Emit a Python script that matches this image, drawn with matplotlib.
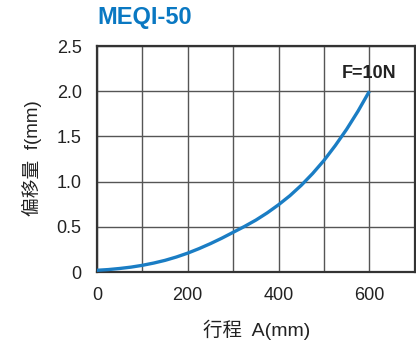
import matplotlib.pyplot as plt
from matplotlib.ticker import MultipleLocator

plt.rcParams['font.family'] = ['Liberation Sans', 'Noto Sans CJK SC', 'DejaVu Sans']

# stroke A (mm) vs deflection f (mm)
stroke = [0, 25, 50, 75, 100, 125, 150, 175, 200, 225, 250, 275, 300,
          325, 350, 375, 400, 425, 450, 475, 500, 525, 550, 575, 600]
deflection = [0.02, 0.028, 0.04, 0.055, 0.075, 0.10, 0.13, 0.167, 0.21, 0.26, 0.315, 0.375, 0.44,
              0.505, 0.575, 0.655, 0.745, 0.845, 0.96, 1.09, 1.235, 1.40, 1.58, 1.78, 2.0]

xticks = [0, 200, 400, 600]
yticks = [0, 0.5, 1.0, 1.5, 2.0, 2.5]
yticklabels = ['0', '0.5', '1.0', '1.5', '2.0', '2.5']

fig = plt.figure(figsize=(4.16, 3.44), dpi=100)
ax = fig.add_axes([0.233, 0.209, 0.764, 0.657])

ax.plot(stroke, deflection, color='#1a7dc4', linewidth=2.4, solid_capstyle='butt', zorder=3)

ax.set_xlim(0, 700)
ax.set_ylim(0, 2.5)
ax.xaxis.set_minor_locator(MultipleLocator(100))
ax.set_xticks(xticks)
ax.set_yticks(yticks)
ax.set_yticklabels(yticklabels)
ax.grid(True, which='both', color='#555555', linewidth=1.0)
ax.tick_params(which='both', length=0, labelsize=13, colors='#222222')
ax.tick_params(axis='x', pad=11)
ax.tick_params(axis='y', pad=11)
for s in ax.spines.values():
    s.set_color('#333333')
    s.set_linewidth(1.6)

ax.text(600, 2.2, 'F=10N', ha='center', va='center', fontsize=13, fontweight='bold', color='#222222')

fig.text(0.233, 0.948, 'MEQI-50', fontsize=17, fontweight='bold', color='#0a78c2', ha='left', va='center')
fig.text(0.077, 0.54, '偏移量  f(mm)', rotation=90, fontsize=13.5, color='#222222', ha='center', va='center')
fig.text(0.616, 0.042, '行程  A(mm)', fontsize=14, color='#222222', ha='center', va='center')

fig.savefig('out.png', dpi=100)
